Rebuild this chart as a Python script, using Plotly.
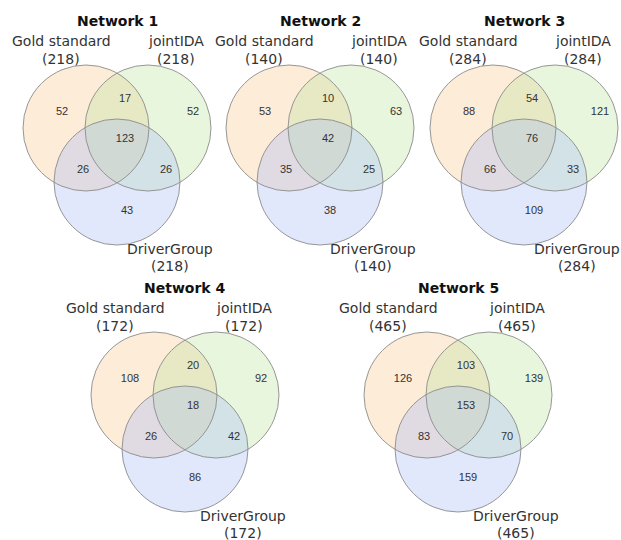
import plotly.graph_objects as go

# Edge-set overlaps between the gold standard, jointIDA and DriverGroup
networks = ["Network 1", "Network 2", "Network 3", "Network 4", "Network 5"]
set_names = ["Gold standard", "jointIDA", "DriverGroup"]

gold_only = [52, 53, 88, 108, 126]
gold_joint = [17, 10, 54, 20, 103]
joint_only = [52, 63, 121, 92, 139]
all_three = [123, 42, 76, 18, 153]
gold_driver = [26, 35, 66, 26, 83]
joint_driver = [26, 25, 33, 42, 70]
driver_only = [43, 38, 109, 86, 159]

# ---- layout (pixel space, y grows downward) ----
W, H = 621, 540
panel_centers = [(117, 128), (320, 128), (524, 128), (185, 395), (458, 395)]
R = 63            # circle radius
HALF_D = 31       # half distance between the two upper circles
DROP = 54         # vertical offset of the lower circle

# region label offsets from panel centre
region_offsets = {
    "gold_only": (-55, -16),
    "gold_joint": (8, -29),
    "joint_only": (76, -16),
    "all_three": (8, 11),
    "gold_driver": (-34, 42),
    "joint_driver": (49, 42),
    "driver_only": (10, 83),
}

fills = ["rgba(250,200,140,0.35)", "rgba(190,230,160,0.35)", "rgba(170,190,245,0.35)"]
outline = "rgba(140,140,140,0.9)"

fig = go.Figure()
fill_shapes, line_shapes = [], []

for i, (cx, cy) in enumerate(panel_centers):
    centres = [(cx - HALF_D, cy), (cx + HALF_D, cy), (cx, cy + DROP)]
    for (x, y), col in zip(centres, fills):
        fill_shapes.append(dict(type="circle", xref="x", yref="y",
                                x0=x - R, x1=x + R, y0=y - R, y1=y + R,
                                fillcolor=col, line=dict(width=0), layer="below"))
        line_shapes.append(dict(type="circle", xref="x", yref="y",
                                x0=x - R, x1=x + R, y0=y - R, y1=y + R,
                                fillcolor="rgba(0,0,0,0)",
                                line=dict(color=outline, width=1), layer="below"))

    counts = {
        "gold_only": gold_only[i], "gold_joint": gold_joint[i],
        "joint_only": joint_only[i], "all_three": all_three[i],
        "gold_driver": gold_driver[i], "joint_driver": joint_driver[i],
        "driver_only": driver_only[i],
    }
    xs = [cx + region_offsets[k][0] for k in counts]
    ys = [cy + region_offsets[k][1] for k in counts]
    fig.add_trace(go.Scatter(
        x=xs, y=ys, mode="text", text=[str(v) for v in counts.values()],
        textfont=dict(family="Liberation Sans, Arial", size=11, color="#333333"),
        hoverinfo="skip", showlegend=False))

    # set totals derived from the region counts
    gold_total = gold_only[i] + gold_joint[i] + all_three[i] + gold_driver[i]
    joint_total = joint_only[i] + gold_joint[i] + all_three[i] + joint_driver[i]
    driver_total = driver_only[i] + gold_driver[i] + all_three[i] + joint_driver[i]

    row2 = cy > 300
    gold_dx = -70 if row2 else -56
    joint_dx = 59
    driver_dx = 58 if row2 else 53
    label_font = dict(family="DejaVu Sans", size=14, color="#333333")
    labels = [
        (cx + gold_dx, cy - 87, set_names[0]),
        (cx + gold_dx, cy - 69, f"({gold_total})"),
        (cx + joint_dx, cy - 87, set_names[1]),
        (cx + joint_dx, cy - 69, f"({joint_total})"),
        (cx + driver_dx, cy + 121, set_names[2]),
        (cx + driver_dx, cy + 138, f"({driver_total})"),
    ]
    for lx, ly, txt in labels:
        fig.add_annotation(x=lx, y=ly, xref="x", yref="y", text=txt,
                           showarrow=False, font=label_font,
                           xanchor="center", yanchor="middle")
    fig.add_annotation(x=cx, y=cy - 107, xref="x", yref="y",
                       text=f"<b>{networks[i]}</b>", showarrow=False,
                       font=dict(family="DejaVu Sans", size=14, color="#111111"),
                       xanchor="center", yanchor="middle")

fig.update_layout(
    shapes=fill_shapes + line_shapes,
    width=W, height=H,
    margin=dict(l=0, r=0, t=0, b=0),
    paper_bgcolor="white", plot_bgcolor="white",
    xaxis=dict(range=[0, W], visible=False, fixedrange=True),
    yaxis=dict(range=[H, 0], visible=False, fixedrange=True),
)

fig.write_html("out.html")
